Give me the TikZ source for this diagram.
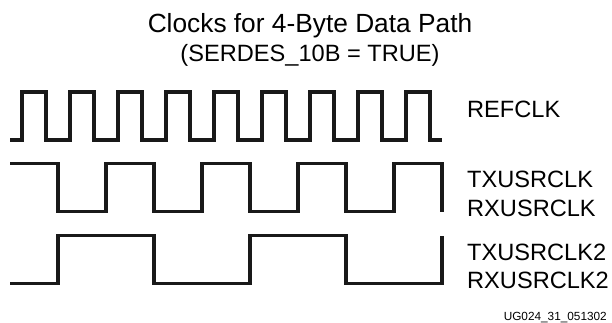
\documentclass[tikz,border=0pt]{standalone}
\usepackage{fontspec}
\setmainfont{Liberation Sans}
\usepackage{tikz}
\usetikzlibrary{positioning}

\begin{document}
\begin{tikzpicture}[x=1pt,y=-1pt,
  wave/.style={line width=3.6pt,black!90},
  lbl/.style={anchor=base west,inner sep=0pt,font=\fontsize{23.6}{28}\selectfont},
  ttl/.style={anchor=base,inner sep=0pt}]
  \useasboundingbox (0,0) rectangle (612,322);
  % titles
  \node[ttl,font=\fontsize{26.3}{30}\selectfont] (title) at (310,32) {Clocks for 4-Byte Data Path};
  \node[ttl,font=\fontsize{23.6}{28}\selectfont] (subtitle) at (310,61.5) {(SERDES\_10B = TRUE)};
  % REFCLK
  \draw[wave] (10,140) \foreach \k in {0,...,8} { -- ({22+48*\k},140) -- ++(0,-48) -- ++(24,0) -- ++(0,48) } -- (442,140);
  % TXUSRCLK / RXUSRCLK
  \draw[wave] (10,163.5) \foreach \k in {0,...,3} { -- ({58+96*\k},163.5) -- ++(0,48) -- ++(48,0) -- ++(0,-48) } -- (442,163.5) -- (442,211.5);
  % TXUSRCLK2 / RXUSRCLK2
  \draw[wave] (10,283.5) \foreach \k in {0,1} { -- ({58+192*\k},283.5) -- ++(0,-48) -- ++(96,0) -- ++(0,48) } -- (442,283.5) -- (442,235.5);
  % labels
  \node[lbl] (refclk) at (467,117.7) {REFCLK};
  \node[lbl] (txclk) at (467,187.7) {TXUSRCLK};
  \node[lbl] (rxclk) at (467,216) {RXUSRCLK};
  \node[lbl] (txclk2) at (467,260.7) {TXUSRCLK2};
  \node[lbl] (rxclk2) at (467,288.3) {RXUSRCLK2};
  \node[anchor=base east,inner sep=0pt,font=\fontsize{11.8}{14}\selectfont] (figid) at (607,320) {UG024\_31\_051302};
\end{tikzpicture}
\end{document}
